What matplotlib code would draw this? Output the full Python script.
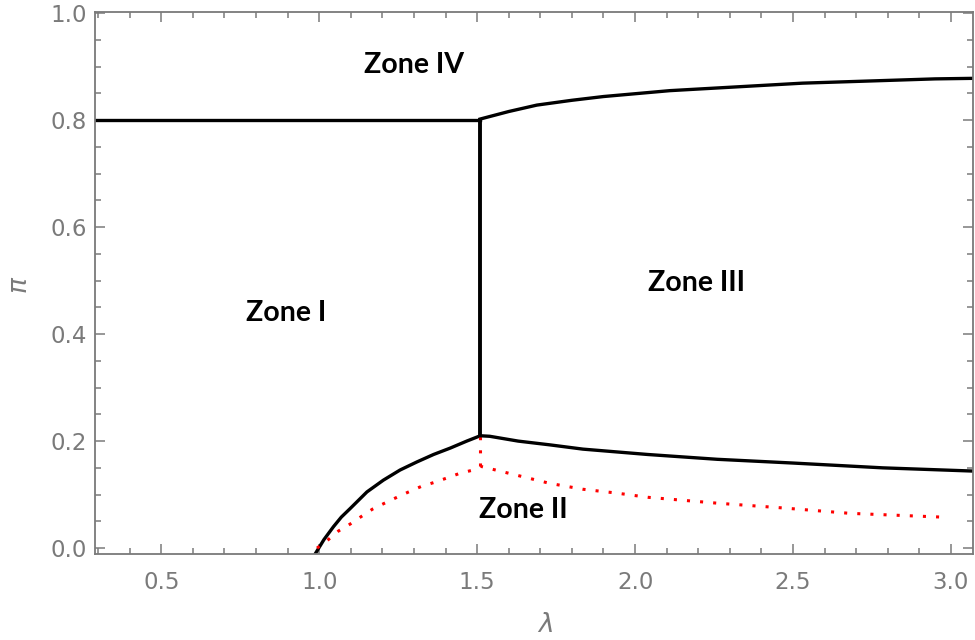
import matplotlib
matplotlib.use("Agg")
import matplotlib.pyplot as plt
from matplotlib.ticker import MultipleLocator

# upper boundary (Zone IV)
top_left_x = [0.29, 1.51]
top_left_y = [0.80, 0.80]
top_right_x = [1.51, 1.60, 1.689, 1.80, 1.90, 2.11, 2.32, 2.53, 2.74, 2.95, 3.07]
top_right_y = [0.802, 0.816, 0.828, 0.837, 0.844, 0.855, 0.862, 0.869, 0.873, 0.877, 0.878]

# vertical boundary
vert_x = [1.51, 1.51]
vert_y = [0.210, 0.80]

# lower black boundary
low_x = [0.987, 1.015, 1.045, 1.07, 1.098, 1.151, 1.203, 1.256, 1.309, 1.362, 1.415, 1.467, 1.51,
         1.54, 1.63, 1.73, 1.835, 2.04, 2.26, 2.50, 2.785, 3.07]
low_y = [-0.011, 0.016, 0.040, 0.058, 0.074, 0.105, 0.127, 0.146, 0.161, 0.175, 0.187, 0.200, 0.210,
         0.209, 0.200, 0.193, 0.185, 0.175, 0.166, 0.159, 0.150, 0.144]

# red dotted curve
red_x = [0.993, 1.029, 1.061, 1.098, 1.133, 1.169, 1.207, 1.246, 1.283, 1.322, 1.365,
         1.404, 1.446, 1.488, 1.51, 1.627, 1.73, 1.835, 1.94, 2.04, 2.26, 2.47, 2.68, 2.97]
red_y = [0.0, 0.016, 0.032, 0.045, 0.059, 0.073, 0.084, 0.095, 0.105, 0.115, 0.123,
         0.131, 0.140, 0.146, 0.153, 0.136, 0.121, 0.110, 0.103, 0.095, 0.084, 0.075, 0.065, 0.058]
red_vert_x = [1.51, 1.51]
red_vert_y = [0.153, 0.207]

zones = ["Zone IV", "Zone I", "Zone III", "Zone II"]
zone_x = [1.30, 0.896, 2.196, 1.646]
zone_y = [0.903, 0.439, 0.495, 0.071]

grey = "#7a7a7a"
fig = plt.figure(figsize=(9.75, 6.4), dpi=100)
ax = fig.add_axes([95/975, 1-554/640, 878/975, 542/640])

lw = 2.4
ax.plot(top_left_x, top_left_y, color="black", lw=lw)
ax.plot(top_right_x, top_right_y, color="black", lw=lw)
ax.plot(vert_x, vert_y, color="black", lw=lw + 0.4)
ax.plot(low_x, low_y, color="black", lw=lw)
ax.plot(red_x, red_y, color="red", lw=2.2, linestyle=(0, (1, 3.3)))
ax.plot(red_vert_x, red_vert_y, color="red", lw=2.2, linestyle=(0, (1, 3.3)))

for t, x, y in zip(zones, zone_x, zone_y):
    ax.text(x, y, t, family="Lato", weight="bold", fontsize=20.5,
            ha="center", va="center", color="black")

ax.set_xlim(0.29, 3.07)
ax.set_ylim(-0.011, 1.002)
ax.xaxis.set_major_locator(MultipleLocator(0.5))
ax.xaxis.set_minor_locator(MultipleLocator(0.1))
ax.yaxis.set_major_locator(MultipleLocator(0.2))
ax.yaxis.set_minor_locator(MultipleLocator(0.05))
ax.xaxis.set_major_formatter(lambda v, p: f"{v:.1f}")
ax.yaxis.set_major_formatter(lambda v, p: f"{v:.1f}")

for s in ax.spines.values():
    s.set_color(grey)
    s.set_linewidth(1.3)
ax.tick_params(which="both", direction="in", top=True, right=True, color=grey,
               width=1.1, labelcolor=grey, labelsize=16.5)
ax.tick_params(which="major", length=7.5)
ax.tick_params(which="minor", length=4)
ax.tick_params(axis="x", which="major", pad=12)
ax.tick_params(axis="y", which="major", pad=6)

fig.text(545/975, 1-625/640, r"$\lambda$", color=grey, fontsize=19,
         ha="center", va="center")
fig.text(20/975, 1-285/640, r"$\pi$", color=grey, fontsize=19,
         ha="center", va="center", rotation=90)

fig.savefig("out.png", dpi=100)
